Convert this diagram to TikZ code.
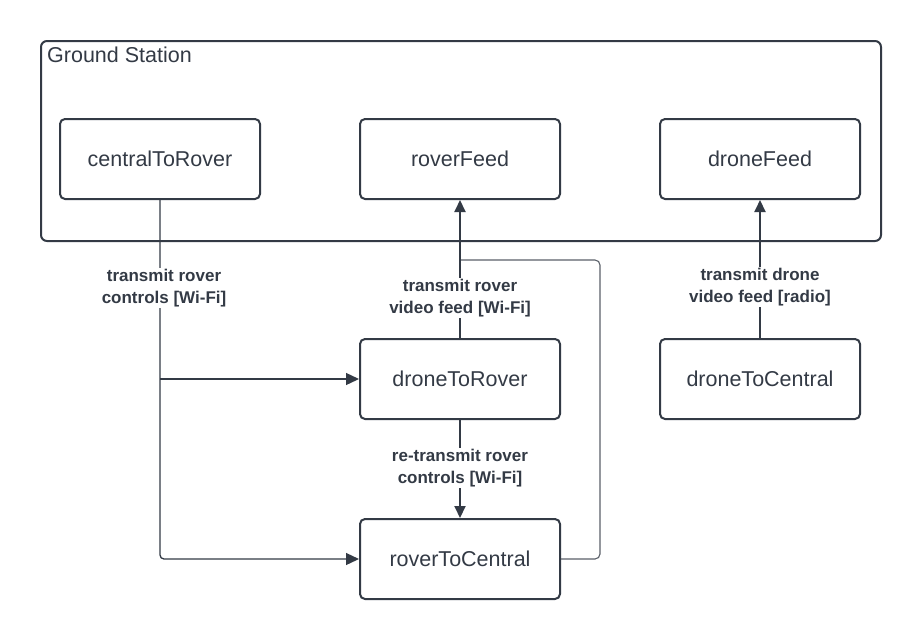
\documentclass[tikz,border=0pt]{standalone}
\usepackage{fontspec}
\setmainfont{Liberation Sans}
\usetikzlibrary{arrows.meta}
\definecolor{ink}{HTML}{333A45}
\definecolor{thin}{HTML}{5A6069}
\tikzset{
  box/.style={draw=ink, line width=2pt, rounded corners=5pt, minimum width=200pt, minimum height=80pt, inner sep=0pt, text=ink, font=\fontsize{21.5}{25}\selectfont},
  lbl/.style={fill=white, align=center, text=ink, inner sep=1.5pt, font=\bfseries\fontsize{17}{21.5}\selectfont},
  conn/.style={draw=ink, line width=2pt, -{Triangle[length=12pt,width=11pt]}},
  thinconn/.style={draw=ink, line width=1.3pt, -{Triangle[length=13pt,width=12pt]}, rounded corners=4pt},
  loopline/.style={draw=thin, line width=1.1pt, rounded corners=5pt}
}
\begin{document}
\begin{tikzpicture}[x=1pt,y=-1pt]
\useasboundingbox (0,0) rectangle (920,640);
% Ground station container
\node[draw=ink, line width=2pt, rounded corners=6pt, minimum width=840pt, minimum height=200pt, inner sep=0pt, anchor=north west] (gs) at (40,40) {};
\node[anchor=north west, text=ink, inner sep=0pt, font=\fontsize{21.5}{25}\selectfont] (gslabel) at (47,47) {Ground Station};
% boxes
\node[box] (c2r) at (160,159) {centralToRover};
\node[box] (rf) at (460,159) {roverFeed};
\node[box] (df) at (760,159) {droneFeed};
\node[box] (d2r) at (460,379) {droneToRover};
\node[box] (d2c) at (760,379) {droneToCentral};
\node[box] (r2c) at (460,559) {roverToCentral};
% coordinates
\coordinate (branch) at (160,379);
\coordinate (loopA) at (600,559);
\coordinate (loopB) at (600,260);
\coordinate (join) at (460,260);
% centralToRover -> roverToCentral and droneToRover
\draw[thinconn] (c2r.south) -- (c2r.south |- r2c.west) -- (r2c.west);
\draw[thinconn] (branch) -- (d2r.west);
% roverToCentral loop up to roverFeed
\draw[loopline] (r2c.east) -- (loopA) -- (loopB) -- (join);
% droneToRover -> roverFeed
\draw[conn] (d2r.north) -- (rf.south);
% droneToRover -> roverToCentral
\draw[conn] (d2r.south) -- (r2c.north);
% droneToCentral -> droneFeed
\draw[conn] (d2c.north) -- (df.south);
% labels
\node[lbl] (l1) at (164,288) {transmit rover\\controls [Wi-Fi]};
\node[lbl] (l2) at (460,298) {transmit rover\\video feed [Wi-Fi]};
\node[lbl] (l3) at (460,468) {re-transmit rover\\controls [Wi-Fi]};
\node[lbl] (l4) at (760,287) {transmit drone\\video feed [radio]};
\end{tikzpicture}
\end{document}
